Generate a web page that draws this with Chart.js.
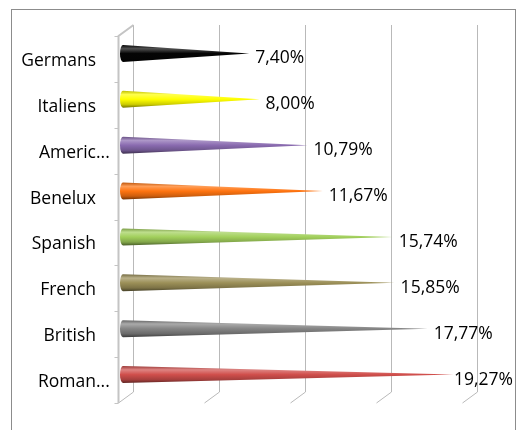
<!DOCTYPE html>
<html>
<head>
<meta charset="utf-8">
<script src="https://cdn.jsdelivr.net/npm/chart.js@4"></script>
<style>
  body { margin: 0; background: #fff; }
  .wrap { width: 516px; height: 430px; position: relative; }
</style>
</head>
<body>
<div class="wrap"><canvas id="myChart"></canvas></div>
<script>
let categories = ['Germans', 'Italiens', 'Americ...', 'Benelux', 'Spanish', 'French', 'British', 'Roman...'];
let values = [7.40, 8.00, 10.79, 11.67, 15.74, 15.85, 17.77, 19.27];
let coneColors = ['#050505', '#ffff00', '#8a6bb0', '#ff7410', '#a2d05c', '#9c9058', '#858585', '#d04f4c'];
let gridTicks = [0, 5, 10, 15, 20];

// shift a hex colour lighter (amt > 0) or darker (amt < 0)
function shade(hex, amt) {
  let n = parseInt(hex.slice(1), 16);
  let r = n >> 16, g = (n >> 8) & 255, b = n & 255;
  let f = (c) => Math.round(amt > 0 ? c + (255 - c) * amt : c * (1 + amt));
  return 'rgb(' + f(r) + ',' + f(g) + ',' + f(b) + ')';
}

let depthX = 15, depthY = 11;
let labelFont = '500 17.5px "Open Sans"';

let conePlugin = {
  id: 'cones',
  beforeDraw(chart) {
    let ctx = chart.ctx;
    let area = chart.chartArea;
    let xs = chart.scales.x, ys = chart.scales.y;
    ctx.save();
    // outer frame
    ctx.strokeStyle = '#8c8c8c';
    ctx.lineWidth = 1;
    ctx.strokeRect(11.5, 9.5, 504, 440);

    ctx.strokeStyle = '#b9b9b9';
    // back wall gridlines + floor diagonals
    gridTicks.forEach((t) => {
      let x = Math.round(xs.getPixelForValue(t)) + 0.5;
      ctx.beginPath();
      ctx.moveTo(x + depthX, area.top - depthY);
      ctx.lineTo(x + depthX, area.bottom - depthY);
      ctx.lineTo(x, area.bottom);
      ctx.stroke();
    });
    // left wall
    let lx = Math.round(area.left) + 0.5;
    ctx.strokeStyle = '#c4c4c4';
    ctx.lineWidth = 2;
    ctx.beginPath();
    ctx.moveTo(lx + depthX, area.top - depthY);
    ctx.lineTo(lx, area.top);
    ctx.lineTo(lx, area.bottom);
    ctx.stroke();
    ctx.lineWidth = 1;
    let band = (area.bottom - area.top) / categories.length;
    for (let k = 0; k <= categories.length; k++) {
      let y = Math.round(area.top + k * band) + 0.5;
      ctx.beginPath();
      ctx.moveTo(lx - 4, y);
      ctx.lineTo(lx, y);
      ctx.stroke();
    }

    // category labels, ellipsis hangs past the right edge like Excel does
    ctx.fillStyle = '#000';
    ctx.font = labelFont;
    ctx.textBaseline = 'middle';
    ctx.textAlign = 'left';
    categories.forEach((c, i) => {
      let y = ys.getPixelForValue(i) + 2;
      let core = c.replace('...', '');
      let w = ctx.measureText(core).width;
      ctx.fillText(c, 96 - w, y);
    });
    ctx.restore();
  },
  afterDatasetsDraw(chart) {
    let ctx = chart.ctx;
    let meta = chart.getDatasetMeta(0);
    ctx.save();
    meta.data.forEach((bar, i) => {
      let r = bar.height / 2;
      let cy = bar.y - 5.5;
      let baseX = bar.base + 5;
      let tipX = bar.x + 4;
      let col = coneColors[i];
      let grad = ctx.createLinearGradient(0, cy - r, 0, cy + r);
      grad.addColorStop(0, shade(col, -0.25));
      grad.addColorStop(0.22, shade(col, 0.3));
      grad.addColorStop(0.5, col);
      grad.addColorStop(0.8, shade(col, -0.2));
      grad.addColorStop(1, shade(col, -0.55));
      ctx.fillStyle = grad;
      ctx.beginPath();
      ctx.moveTo(baseX, cy - r);
      ctx.lineTo(tipX, cy);
      ctx.lineTo(baseX, cy + r);
      ctx.ellipse(baseX, cy, 3, r, 0, Math.PI / 2, Math.PI * 3 / 2);
      ctx.closePath();
      ctx.fill();

      // value label
      let txt = values[i].toFixed(2).replace('.', ',') + '%';
      ctx.font = labelFont;
      ctx.fillStyle = '#000';
      ctx.textBaseline = 'middle';
      let w = ctx.measureText(txt).width;
      let lx = Math.min(tipX + 6, 513 - w);
      ctx.fillText(txt, lx, bar.y - 0.5);
    });
    ctx.restore();
  }
};

const ctx = document.getElementById('myChart').getContext('2d');
const myChart = new Chart(ctx, {
  type: 'bar',
  data: {
    labels: categories,
    datasets: [{
      label: 'Share',
      data: values,
      backgroundColor: 'rgba(0,0,0,0)',
      borderWidth: 0,
      categoryPercentage: 1,
      barPercentage: 0.37
    }]
  },
  options: {
    indexAxis: 'y',
    responsive: true,
    maintainAspectRatio: false,
    animation: false,
    layout: { padding: { left: 118, right: 54, top: 36, bottom: 27 } },
    plugins: {
      legend: { display: false },
      tooltip: { enabled: false }
    },
    scales: {
      x: { display: false, min: 0, max: 20 },
      y: { display: false }
    }
  },
  plugins: [conePlugin]
});
</script>
</body>
</html>
